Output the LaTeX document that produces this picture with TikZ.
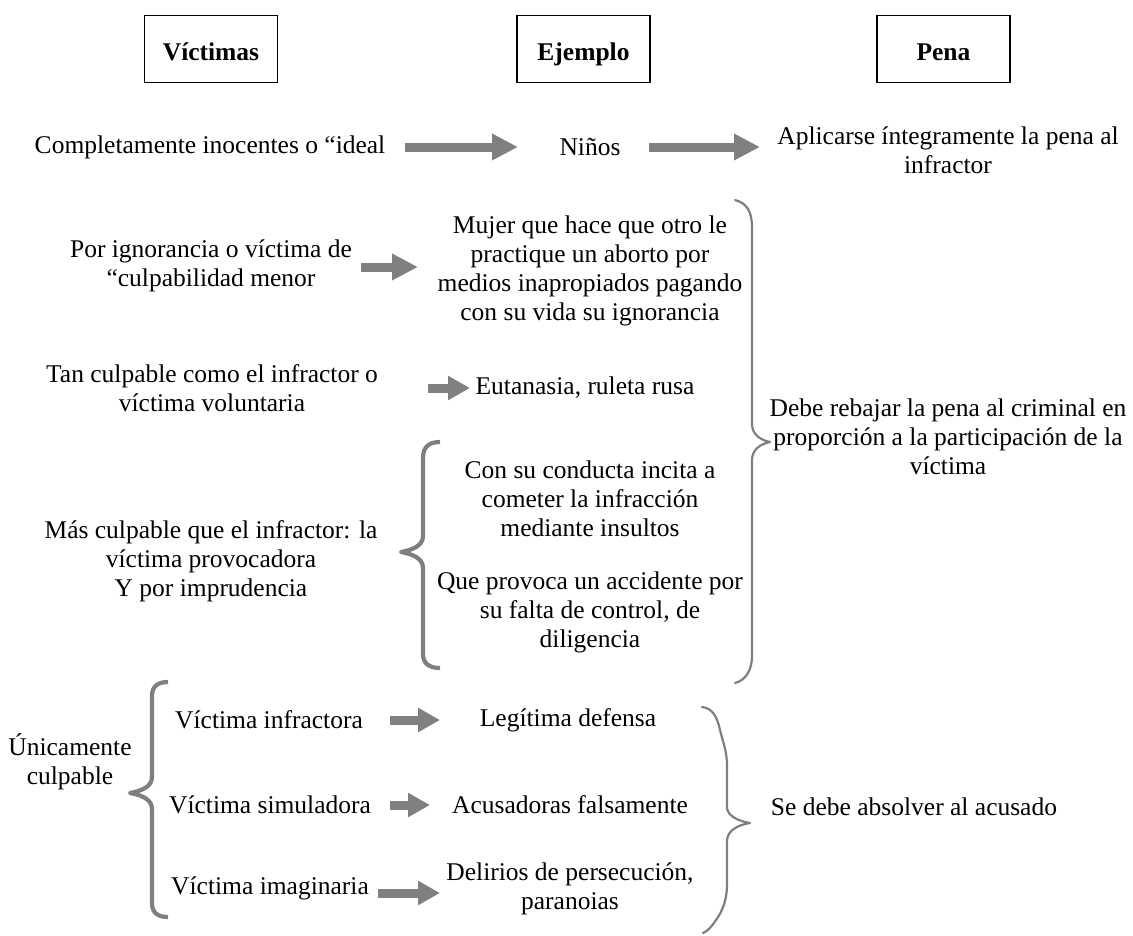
\documentclass[tikz,border=0pt]{standalone}
\usepackage{fontspec}
\setmainfont{Liberation Serif}
\usetikzlibrary{arrows.meta}
\definecolor{arrgray}{HTML}{808080}
\definecolor{brgray}{HTML}{7F7F7F}
\begin{document}
\begin{tikzpicture}[x=1pt,y=-1pt,
  txt/.style={font=\fontsize{25.5}{29}\selectfont, align=center, inner sep=0pt},
  head/.style={draw=black, line width=1.1pt, minimum width=133pt, minimum height=67pt, inner sep=0pt, text height=24pt, text depth=2pt, font=\fontsize{25.5}{29}\selectfont\bfseries},
  blockarrow/.style={draw=arrgray, line width=9pt, -{Triangle[length=26pt,width=25pt]}},
  smallarrow/.style={draw=arrgray, line width=9pt, -{Triangle[length=22pt,width=23pt]}},
  thinbrace/.style={draw=brgray, line width=2.2pt, line join=round, line cap=round},
  thickbrace/.style={draw=brgray, line width=4.2pt, line join=round}
]
\useasboundingbox (0,0) rectangle (1133,935);

% headers
\node[head] (hv) at (211,49) {Víctimas};
\node[head] (he) at (583.5,49) {Ejemplo};
\node[head] (hp) at (943.5,49) {Pena};

% row 1
\node[txt] (r1v) at (210,147) {Completamente inocentes o “ideal};
\node[txt] (r1e) at (590,147) {Niños};
\node[txt] (r1p) at (948,150) {Aplicarse íntegramente la pena al\\infractor};
\coordinate (a1s) at (405,147); \coordinate (a1e) at (518,147);
\coordinate (a2s) at (649,147); \coordinate (a2e) at (760,147);
\draw[blockarrow] (a1s) -- (a1e);
\draw[blockarrow] (a2s) -- (a2e);

% row 2
\node[txt] (r2v) at (211,266) {Por ignorancia o víctima de\\“culpabilidad menor};
\node[txt] (r2e) at (590,271) {Mujer que hace que otro le\\practique un aborto por\\medios inapropiados pagando\\con su vida su ignorancia};
\coordinate (a3s) at (361,267); \coordinate (a3e) at (418,267);
\draw[blockarrow] (a3s) -- (a3e);

% row 3
\node[txt] (r3v) at (212,388) {Tan culpable como el infractor o\\víctima voluntaria};
\node[txt] (r3e) at (585,388) {Eutanasia, ruleta rusa};
\coordinate (a4s) at (428,388); \coordinate (a4e) at (470,388);
\draw[smallarrow] (a4s) -- (a4e);

% row 4
\node[txt] (r4v) at (211,561) {Más culpable que el infractor: la\\víctima provocadora\\Y por imprudencia};
\node[txt] (r4e1) at (590,499) {Con su conducta incita a\\cometer la infracción\\mediante insultos};
\node[txt] (r4e2) at (590,612) {Que provoca un accidente por\\su falta de control, de\\diligencia};
\draw[thickbrace] (440,442) .. controls (430,442) and (423,446) .. (423,458)
  -- (423,536) .. controls (423,546) and (412,550) .. (401,552)
  .. controls (412,554) and (423,558) .. (423,568)
  -- (423,654) .. controls (423,664) and (430,668) .. (440,668);

% pena for rows 2-4
\node[txt] (pena2) at (948,437) {Debe rebajar la pena al criminal en\\proporción a la participación de la\\víctima};
\draw[thinbrace] (735,200) .. controls (746,203) and (752,210) .. (752,228)
  -- (752,424) .. controls (752,434) and (760,440) .. (770,442)
  .. controls (760,444) and (752,450) .. (752,460)
  -- (752,656) .. controls (752,670) and (746,680) .. (735,683);

% row 5
\node[txt] (r5u) at (70,762) {Únicamente\\culpable};
\draw[thickbrace] (168,682) .. controls (158,682) and (152,686) .. (152,696)
  -- (152,777) .. controls (152,787) and (141,791) .. (130,793)
  .. controls (141,795) and (152,799) .. (152,809)
  -- (152,903) .. controls (152,913) and (158,917) .. (168,917);

\node[txt] (r5a) at (269,720) {Víctima infractora};
\node[txt] (r5b) at (270,805) {Víctima simuladora};
\node[txt] (r5c) at (270,888) {Víctima imaginaria};
\node[txt] (r5ae) at (568,720) {Legítima defensa};
\node[txt] (r5be) at (570,805) {Acusadoras falsamente};
\node[txt] (r5ce) at (570,889) {Delirios de persecución,\\paranoias};
\coordinate (a5s) at (390,720); \coordinate (a5e) at (440,720);
\coordinate (a6s) at (390,805); \coordinate (a6e) at (430,805);
\coordinate (a7s) at (378,893); \coordinate (a7e) at (440,893);
\draw[smallarrow] (a5s) -- (a5e);
\draw[smallarrow] (a6s) -- (a6e);
\draw[smallarrow] (a7s) -- (a7e);

\node[txt] (pena3) at (914,807) {Se debe absolver al acusado};
\draw[thinbrace] (702,707) .. controls (712,708) and (717,716) .. (720,730)
  .. controls (723,742) and (727,752) .. (727,765)
  -- (727,808) .. controls (728,816) and (738,821) .. (750,823)
  .. controls (738,825) and (728,830) .. (727,840)
  -- (727,885) .. controls (727,900) and (722,912) .. (716,920)
  .. controls (712,926) and (708,931) .. (703,933);
\end{tikzpicture}
\end{document}
